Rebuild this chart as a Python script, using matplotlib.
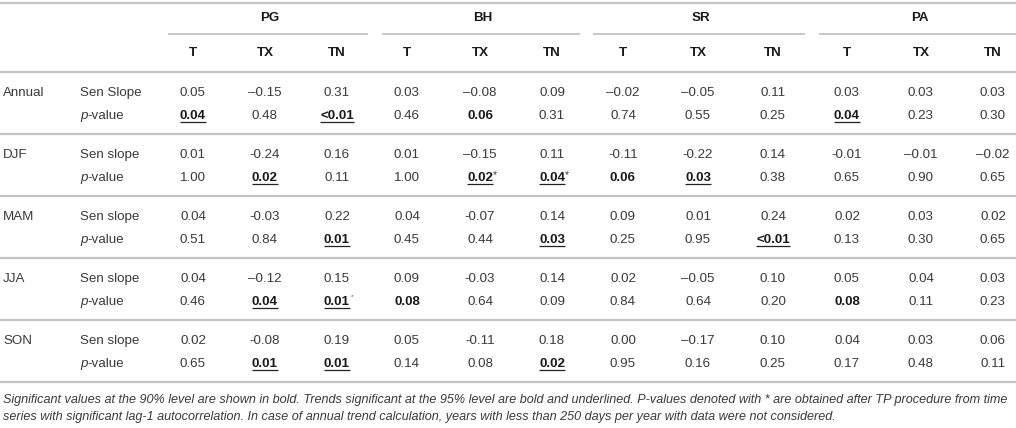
import matplotlib
matplotlib.use("Agg")
import matplotlib.pyplot as plt

# ---------------- data ----------------
stations = ["PG", "BH", "SR", "PA"]
variables = ["T", "TX", "TN"]
seasons = ["Annual", "DJF", "MAM", "JJA", "SON"]
slope_names = ["Sen Slope", "Sen slope", "Sen slope", "Sen slope", "Sen slope"]

slope_annual = ["0.05", "\u20130.15", "0.31", "0.03", "\u20130.08", "0.09", "\u20130.02", "\u20130.05", "0.11", "0.03", "0.03", "0.03"]
slope_djf = ["0.01", "-0.24", "0.16", "0.01", "\u20130.15", "0.11", "-0.11", "-0.22", "0.14", "-0.01", "\u20130.01", "\u20130.02"]
slope_mam = ["0.04", "-0.03", "0.22", "0.04", "-0.07", "0.14", "0.09", "0.01", "0.24", "0.02", "0.03", "0.02"]
slope_jja = ["0.04", "\u20130.12", "0.15", "0.09", "-0.03", "0.14", "0.02", "\u20130.05", "0.10", "0.05", "0.04", "0.03"]
slope_son = ["0.02", "-0.08", "0.19", "0.05", "-0.11", "0.18", "0.00", "\u20130.17", "0.10", "0.04", "0.03", "0.06"]

p_annual = ["0.04", "0.48", "<0.01", "0.46", "0.06", "0.31", "0.74", "0.55", "0.25", "0.04", "0.23", "0.30"]
p_djf = ["1.00", "0.02", "0.11", "1.00", "0.02", "0.04", "0.06", "0.03", "0.38", "0.65", "0.90", "0.65"]
p_mam = ["0.51", "0.84", "0.01", "0.45", "0.44", "0.03", "0.25", "0.95", "<0.01", "0.13", "0.30", "0.65"]
p_jja = ["0.46", "0.04", "0.01", "0.08", "0.64", "0.09", "0.84", "0.64", "0.20", "0.08", "0.11", "0.23"]
p_son = ["0.65", "0.01", "0.01", "0.14", "0.08", "0.02", "0.95", "0.16", "0.25", "0.17", "0.48", "0.11"]

# significance: 0 none, 1 = 90% (bold), 2 = 95% (bold + underline)
sig_annual = [2, 0, 2, 0, 1, 0, 0, 0, 0, 2, 0, 0]
sig_djf = [0, 2, 0, 0, 2, 2, 1, 2, 0, 0, 0, 0]
sig_mam = [0, 0, 2, 0, 0, 2, 0, 0, 2, 0, 0, 0]
sig_jja = [0, 2, 2, 1, 0, 0, 0, 0, 0, 1, 0, 0]
sig_son = [0, 2, 2, 0, 0, 2, 0, 0, 0, 0, 0, 0]

# asterisk marks (TP procedure): 0 none, 1 normal, 2 tiny
star_annual = [0] * 12
star_djf = [0, 0, 0, 0, 1, 1, 0, 0, 0, 0, 0, 0]
star_mam = [0] * 12
star_jja = [0, 0, 2, 0, 0, 0, 0, 0, 0, 0, 0, 0]
star_son = [0] * 12

footnote_lines = [
    "Significant values at the 90% level are shown in bold. Trends significant at the 95% level are bold and underlined. "
    "P-values denoted with * are obtained after TP procedure from time",
    "series with significant lag-1 autocorrelation. In case of annual trend calculation, years with less than 250 days per year with data were not considered.",
]

slopes = [slope_annual, slope_djf, slope_mam, slope_jja, slope_son]
pvals = [p_annual, p_djf, p_mam, p_jja, p_son]
sigs = [sig_annual, sig_djf, sig_mam, sig_jja, sig_son]
stars = [star_annual, star_djf, star_mam, star_jja, star_son]

# ---------------- layout ----------------
W, H = 1016, 428
fig = plt.figure(figsize=(W / 100, H / 100), dpi=100)
ax = fig.add_axes([0, 0, 1, 1])
ax.set_xlim(0, W)
ax.set_ylim(H, 0)
ax.axis("off")

FONT = "Liberation Sans"
FS = 9.6
TXT = "#3a3a3a"
BOLD = "#1a1a1a"
RULE = "#c4c4c4"

col_x = [193, 265, 337, 407, 480, 552, 623, 698, 773, 847, 921, 993]
group_spans = [(168, 368), (382, 580), (593, 805), (819, 1016)]


def hline(y, x0=0, x1=W, lw=1.6):
    ax.plot([x0, x1], [y, y], color=RULE, lw=lw, solid_capstyle="butt")


hline(3)
for (x0, x1), name in zip(group_spans, stations):
    ax.text((x0 + x1) / 2 + 2, 18, name, ha="center", va="center", fontsize=FS,
            fontweight="bold", family=FONT, color=BOLD)
    hline(34, x0, x1, lw=1.3)
for i, cx in enumerate(col_x):
    ax.text(cx, 53, variables[i % 3], ha="center", va="center", fontsize=FS,
            fontweight="bold", family=FONT, color=BOLD)
hline(72)

fig.canvas.draw()
r = fig.canvas.get_renderer()
inv = ax.transData.inverted()

row0 = 93
block = 62
dp = 23
underline_jobs = []
for s, season in enumerate(seasons):
    y1 = row0 + s * block
    y2 = y1 + dp
    ax.text(3, y1, season, ha="left", va="center", fontsize=FS, family=FONT, color=TXT)
    ax.text(80, y1, slope_names[s], ha="left", va="center", fontsize=FS, family=FONT, color=TXT)
    tp = ax.text(80, y2, "p", ha="left", va="center", fontsize=FS, family=FONT,
                 style="italic", color=TXT)
    bb = tp.get_window_extent(renderer=r)
    x_end = inv.transform((bb.x1, bb.y0))[0]
    ax.text(x_end, y2, "-value", ha="left", va="center", fontsize=FS, family=FONT, color=TXT)
    for c, cx in enumerate(col_x):
        ax.text(cx, y1, slopes[s][c], ha="center", va="center", fontsize=FS, family=FONT, color=TXT)
        sig = sigs[s][c]
        t = ax.text(cx, y2, pvals[s][c], ha="center", va="center", fontsize=FS, family=FONT,
                    color=BOLD if sig else TXT, fontweight="bold" if sig else "normal")
        if sig == 2 or stars[s][c]:
            underline_jobs.append((t, sig == 2, stars[s][c], y2))
    hline(72 + (s + 1) * block)

for t, under, star, y2 in underline_jobs:
    bb = t.get_window_extent(renderer=r)
    (xa, yb) = inv.transform((bb.x0, bb.y0))
    (xb, yt) = inv.transform((bb.x1, bb.y1))
    if under:
        ax.plot([xa, xb], [yb - 0.5, yb - 0.5], color="#222222", lw=0.9, solid_capstyle="butt")
    if star == 1:
        ax.text(xb, y2 - 3, "*", ha="left", va="center", fontsize=7.5, family=FONT, color=TXT)
    elif star == 2:
        ax.text(xb + 0.5, y2 - 5, "*", ha="left", va="center", fontsize=4.5, family=FONT, color=TXT)

ax.text(3, 400, footnote_lines[0], ha="left", va="center", fontsize=9.1, family=FONT,
        style="italic", color=TXT)
ax.text(3, 417, footnote_lines[1], ha="left", va="center", fontsize=9.1, family=FONT,
        style="italic", color=TXT)

fig.savefig("out.png", dpi=100, facecolor="white")
